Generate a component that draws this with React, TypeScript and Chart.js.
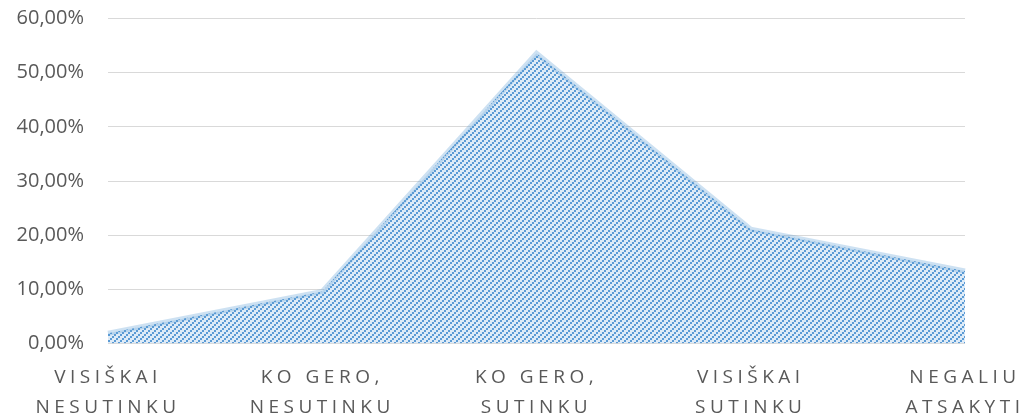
import React, { useEffect, useRef } from "react";
import { Chart, registerables, CategoryScale } from "chart.js";

Chart.register(...registerables);

class SpacedCategoryScale extends CategoryScale {
  static id = "spacedCategory";
  static defaults = CategoryScale.defaults;
  drawLabels(area: any) {
    const ctx: any = this.ctx;
    ctx.save();
    ctx.letterSpacing = "4.5px";
    super.drawLabels(area);
    ctx.restore();
  }
}
Chart.register(SpacedCategoryScale as any);

const categories: string[][] = [
  ["VISIŠKAI", "NESUTINKU"],
  ["KO GERO,", "NESUTINKU"],
  ["KO GERO,", "SUTINKU"],
  ["VISIŠKAI", "SUTINKU"],
  ["NEGALIU", "ATSAKYTI"],
];
const values: number[] = [0.019, 0.096, 0.536, 0.211, 0.134];
const yMin = 0;
const yMax = 0.6;
const yStep = 0.1;

function makePattern(ctx: CanvasRenderingContext2D): CanvasPattern | string {
  const n = 6;
  const c = document.createElement("canvas");
  c.width = n;
  c.height = n;
  const p = c.getContext("2d");
  if (!p) return "#9dc3e6";
  p.fillStyle = "#deebf7";
  p.fillRect(0, 0, n, n);
  p.fillStyle = "#5b9bd5";
  for (let y = 0; y < n; y++) {
    const pair = Math.floor(y / 2);
    const x0 = 4 - 2 * pair;
    p.fillRect(x0, y, 2, 1);
  }
  return ctx.createPattern(c, "repeat") || "#9dc3e6";
}

export default function App() {
  const ref = useRef<HTMLCanvasElement>(null);
  useEffect(() => {
    const canvas = ref.current;
    if (!canvas) return;
    const ctx = canvas.getContext("2d")!;
    const chart = new Chart(canvas, {
      type: "line",
      data: {
        labels: categories,
        datasets: [
          {
            data: values,
            fill: "origin",
            backgroundColor: makePattern(ctx) as any,
            borderColor: "rgba(91,155,213,0.3)",
            borderWidth: 5,
            pointRadius: 0,
            tension: 0,
          },
        ],
      },
      options: {
        animation: false,
        responsive: true,
        maintainAspectRatio: false,
        layout: { padding: { top: 18.6, right: 57, left: 8, bottom: 0 } },
        plugins: { legend: { display: false }, tooltip: { enabled: false } },
        scales: {
          x: {
            type: "spacedCategory" as any,
            offset: false,
            grid: { display: false, drawTicks: false },
            border: { display: false },
            ticks: {
              color: "#595959",
              font: { family: "'Open Sans'", size: 19, lineHeight: 1.53 },
              maxRotation: 0,
              autoSkip: false,
              padding: 20,
            },
            afterFit: (s: any) => {
              s.paddingLeft = 0;
              s.paddingRight = 0;
              s.paddingTop = 0;
              s.paddingBottom = 0;
              s.height = 70.5;
            },
          },
          y: {
            min: yMin,
            max: yMax,
            border: { display: false },
            grid: { color: "#d9d9d9", lineWidth: 1, drawTicks: false },
            ticks: {
              stepSize: yStep,
              color: "#595959",
              font: { family: "'Open Sans'", size: 20 },
              padding: 24,
              callback: (v: any) =>
                (Number(v) * 100).toFixed(2).replace(".", ",") + "%",
            },
            afterFit: (s: any) => {
              s.paddingTop = 0;
              s.paddingBottom = 0;
              s.width = 100;
            },
          },
        },
      },
    });
    return () => chart.destroy();
  }, []);
  return (
    <div style={{ position: "fixed", left: 0, top: 0, width: 1022, height: 414, background: "#fff" }}>
      <canvas ref={ref} />
    </div>
  );
}
